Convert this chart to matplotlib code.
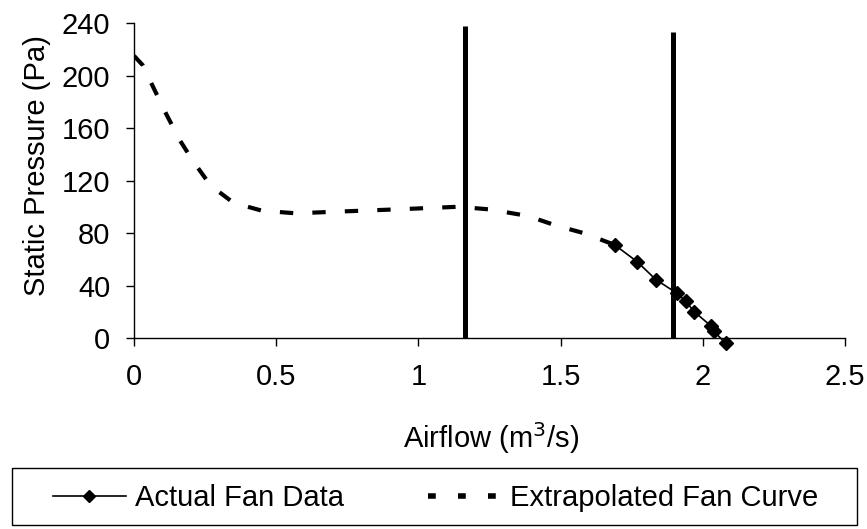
import matplotlib.pyplot as plt
from matplotlib.lines import Line2D
from matplotlib.patches import Rectangle

plt.rcParams['font.family'] = ['Liberation Sans', 'DejaVu Sans']

# extrapolated fan curve
curve_x = [0.0, 0.03, 0.07, 0.11, 0.16, 0.21, 0.27, 0.35, 0.45, 0.57, 0.68, 0.8, 0.92, 1.03, 1.14, 1.25, 1.385, 1.48, 1.58, 1.69]
curve_y = [215, 208, 190, 172, 151, 134, 116, 103, 97, 95, 96, 97, 98, 99, 100, 98, 93, 86, 80, 71]

# measured fan data
fan_x = [1.69, 1.77, 1.835, 1.91, 1.94, 1.97, 2.03, 2.04, 2.08]
fan_y = [71, 58, 44.5, 34, 28, 20, 9, 5, -4]

# operating limits (vertical bars)
vlines_x = [1.165, 1.895]
vlines_top = [238, 233]

fig = plt.figure(figsize=(8.67, 5.29), dpi=100)
ax = fig.add_axes([0.1546, 0.361, 0.820, 0.5955])

ax.plot(curve_x, curve_y, color='black', lw=3, ls=(0, (3.2, 4.6)), solid_capstyle='butt')
ax.plot(fan_x, fan_y, color='black', lw=1.2, marker='D', ms=7, clip_on=False, zorder=4)
for vx, vt in zip(vlines_x, vlines_top):
    ax.plot([vx, vx], [0, vt], color='black', lw=3.6, clip_on=False, solid_capstyle='butt')

ax.set_xlim(0, 2.5)
ax.set_ylim(0, 240)
ax.set_xticks([0, 0.5, 1, 1.5, 2, 2.5])
ax.set_xticklabels(['0', '0.5', '1', '1.5', '2', '2.5'])
ax.set_yticks(range(0, 241, 40))
ax.spines['top'].set_visible(False)
ax.spines['right'].set_visible(False)
ax.spines['left'].set_linewidth(1)
ax.spines['bottom'].set_linewidth(1)
ax.tick_params(axis='both', labelsize=21, length=6, width=1, direction='out')
ax.tick_params(axis='x', pad=12)
ax.tick_params(axis='y', pad=11)
ax.set_xlabel('Airflow (m$^3$/s)', fontsize=21)
ax.set_ylabel('Static Pressure (Pa)', fontsize=21)
ax.xaxis.set_label_coords(0.502, -0.26)
ax.yaxis.set_label_coords(-0.117, 0.546)

# legend: entries without frame, box drawn separately
handles = [
    Line2D([], [], color='black', lw=1.2, marker='D', ms=6),
    Line2D([], [], color='black', lw=4, ls=(0, (1.4, 4.0))),
]
leg = fig.legend(handles, ['Actual Fan Data', 'Extrapolated Fan Curve'], ncol=2,
                 loc='center left', bbox_to_anchor=(0.0611, 0.0286, 0.8824, 0.06), mode='expand',
                 fontsize=21, frameon=False, handlelength=2.5, handletextpad=0.3,
                 columnspacing=1, borderpad=0, borderaxespad=0)
fig.patches.append(Rectangle((12 / 867, 1 - 525 / 529), 845 / 867, 57 / 529,
                             transform=fig.transFigure, fill=False, edgecolor='black', lw=1))

fig.savefig('out.png', dpi=100)
